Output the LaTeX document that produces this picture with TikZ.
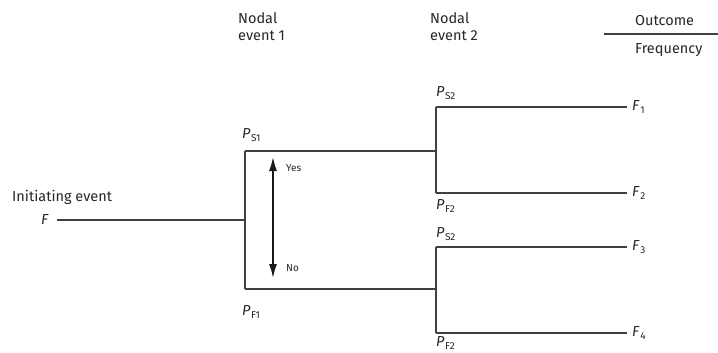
\documentclass[tikz,border=0pt]{standalone}
\usepackage{fontspec}
\setmainfont{Fira Sans}
\usetikzlibrary{arrows.meta}
\newcommand{\Pv}[1]{\textit{P}\kern0.5pt\raisebox{-0.25em}{\fontsize{10}{10}\selectfont #1}}
\newcommand{\Fv}[1]{\textit{F}\kern0.5pt\raisebox{-0.25em}{\fontsize{10}{10}\selectfont #1}}
\begin{document}
\begin{tikzpicture}[x=1pt,y=-1pt,
  line/.style={draw=black!75, line width=1.4pt},
  lbl/.style={font=\fontsize{14.5}{17}\selectfont, text=black!85, inner sep=0pt},
  small/.style={font=\fontsize{10}{11}\selectfont, text=black!85, inner sep=0pt},
  hdr/.style={lbl, align=left, anchor=north west}]
\useasboundingbox (0,0) rectangle (718,353);
% headers
\node[hdr] (h1) at (238,12) {Nodal\\event 1};
\node[hdr] (h2) at (430,12) {Nodal\\event 2};
\node[lbl, anchor=west] (oc) at (635,21) {Outcome};
\node[lbl, anchor=west] (fr) at (635,50) {Frequency};
\coordinate (rl) at (604,34);
\coordinate (rr) at (718,34);
\draw[line, line width=1.1pt] (rl) -- (rr);
% initiating event
\node[lbl, anchor=west] (ie) at (12,197) {Initiating event};
\node[lbl, anchor=east] (f) at (49,220) {\textit{F}};
% junctions
\coordinate (J1) at (245,220);
\coordinate (S1) at (245,151);
\coordinate (F1) at (245,289);
\coordinate (J2a) at (436,151);
\coordinate (S2a) at (436,107);
\coordinate (F2a) at (436,193);
\coordinate (J2b) at (436,289);
\coordinate (S2b) at (436,247);
\coordinate (F2b) at (436,333);
% outcome labels
\node[lbl, anchor=west] (o1) at (632,107) {\Fv{1}};
\node[lbl, anchor=west] (o2) at (632,193) {\Fv{2}};
\node[lbl, anchor=west] (o3) at (632,247) {\Fv{3}};
\node[lbl, anchor=west] (o4) at (632,333) {\Fv{4}};
% branches
\coordinate (f0) at ([xshift=8pt]f.east);
\draw[line] (f0) -- (J1);
\draw[line] (S1) -- (F1);
\draw[line] (S1) -- (J2a);
\draw[line] (F1) -- (J2b);
\draw[line] (S2a) -- (F2a);
\draw[line] (S2b) -- (F2b);
\draw[line] (S2a) -- ([xshift=-5pt]o1.west);
\draw[line] (F2a) -- ([xshift=-5pt]o2.west);
\draw[line] (S2b) -- ([xshift=-5pt]o3.west);
\draw[line] (F2b) -- ([xshift=-5pt]o4.west);
% probability labels
\node[lbl, anchor=west] (ps1) at (242,135) {\Pv{S1}};
\node[lbl, anchor=west] (pf1) at (242,312) {\Pv{F1}};
\node[lbl, anchor=west] (ps2a) at (436,93) {\Pv{S2}};
\node[lbl, anchor=west] (pf2a) at (436,206) {\Pv{F2}};
\node[lbl, anchor=west] (ps2b) at (436,234) {\Pv{S2}};
\node[lbl, anchor=west] (pf2b) at (436,343) {\Pv{F2}};
% yes/no arrow
\coordinate (ay) at (273,157);
\coordinate (an) at (273,278);
\draw[draw=black!90, line width=1.6pt, {Latex[length=14pt,width=8pt]}-{Latex[length=14pt,width=8pt]}] (ay) -- (an);
\node[small, anchor=west] (yes) at (286,168) {Yes};
\node[small, anchor=west] (no) at (286,268) {No};
\end{tikzpicture}
\end{document}
